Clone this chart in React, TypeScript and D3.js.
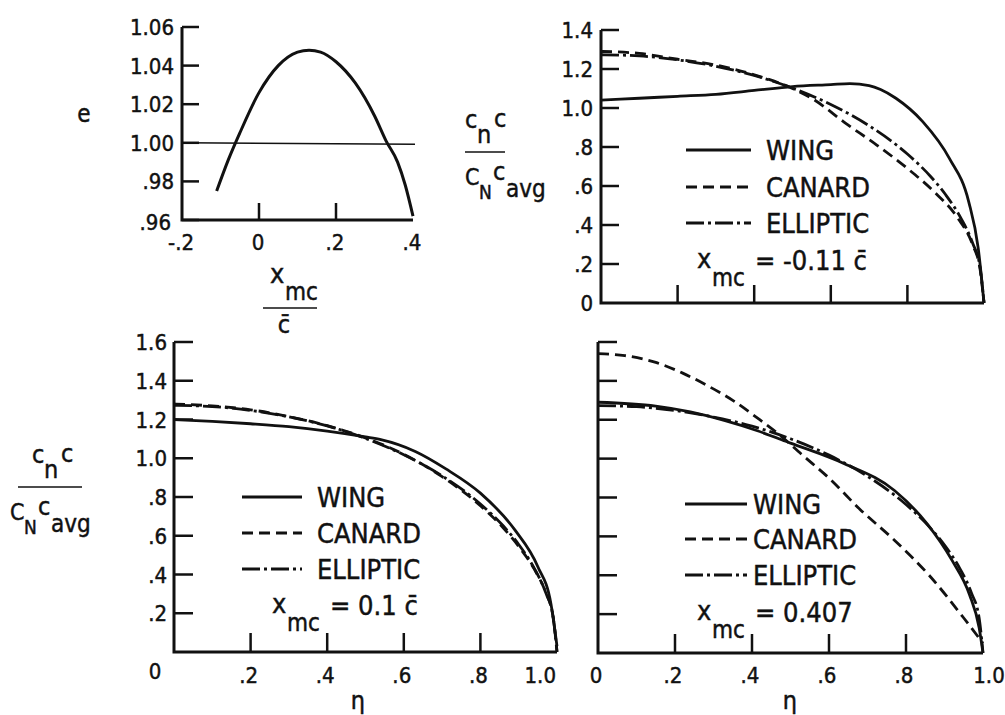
import React, { useRef, useEffect } from 'react';
import * as d3 from 'd3';

// span efficiency vs. moment-centre location (top-left panel)
const xmcValues = [-0.11, -0.08, -0.05, 0, 0.05, 0.1, 0.13, 0.16, 0.2, 0.25, 0.3, 0.33, 0.36, 0.38, 0.4];
const eValues = [0.975, 0.991, 1.005, 1.026, 1.040, 1.047, 1.048, 1.047, 1.042, 1.031, 1.014, 1.001, 0.99, 0.978, 0.962];
const eTicks = [0.96, 0.98, 1.0, 1.02, 1.04, 1.06];
const eTickLabels = ['.96', '.98', '1.00', '1.02', '1.04', '1.06'];
const xmcTicks = [-0.2, 0, 0.2, 0.4];
const xmcTickLabels = ['-.2', '0', '.2', '.4'];

// elliptic loading, same in every load panel
const ellipticEta = [0, 0.1, 0.2, 0.3, 0.4, 0.5, 0.6, 0.7, 0.8, 0.86, 0.9, 0.94, 0.97, 0.99, 1.0];
const ellipticLoad = [1.273, 1.267, 1.247, 1.214, 1.167, 1.102, 1.018, 0.909, 0.764, 0.65, 0.555, 0.434, 0.309, 0.18, 0];

// x_mc = -0.11 cbar
const wingEtaA = [0, 0.1, 0.2, 0.3, 0.4, 0.5, 0.6, 0.65, 0.7, 0.73, 0.77, 0.84, 0.91, 0.96, 0.985, 1.0];
const wingLoadA = [1.04, 1.05, 1.06, 1.07, 1.09, 1.11, 1.12, 1.125, 1.115, 1.095, 1.05, 0.93, 0.74, 0.52, 0.28, 0];
const canardEtaA = [0, 0.1, 0.2, 0.3, 0.4, 0.5, 0.55, 0.64, 0.72, 0.8, 0.87, 0.93, 0.97, 0.99, 1.0];
const canardLoadA = [1.29, 1.28, 1.25, 1.22, 1.17, 1.1, 1.05, 0.92, 0.81, 0.69, 0.57, 0.44, 0.3, 0.17, 0];

// x_mc = 0.1 cbar
const wingEtaB = [0, 0.1, 0.2, 0.3, 0.4, 0.5, 0.54, 0.63, 0.71, 0.8, 0.89, 0.95, 0.984, 1.0];
const wingLoadB = [1.2, 1.19, 1.178, 1.163, 1.14, 1.11, 1.096, 1.035, 0.945, 0.82, 0.63, 0.44, 0.25, 0.03];
const canardEtaB = [0, 0.1, 0.2, 0.3, 0.4, 0.5, 0.6, 0.7, 0.8, 0.86, 0.9, 0.94, 0.97, 0.99, 1.0];
const canardLoadB = [1.28, 1.27, 1.25, 1.215, 1.168, 1.105, 1.02, 0.905, 0.755, 0.64, 0.545, 0.43, 0.31, 0.18, 0];

// x_mc = 0.407 cbar
const wingEtaC = [0, 0.15, 0.24, 0.33, 0.41, 0.5, 0.64, 0.77, 0.855, 0.92, 0.965, 0.99, 1.0];
const wingLoadC = [1.29, 1.27, 1.24, 1.195, 1.146, 1.08, 0.974, 0.836, 0.664, 0.475, 0.3, 0.13, 0];
const canardEtaC = [0, 0.07, 0.15, 0.22, 0.28, 0.35, 0.41, 0.47, 0.53, 0.6, 0.68, 0.77, 0.86, 0.95, 1.0];
const canardLoadC = [1.54, 1.53, 1.495, 1.44, 1.38, 1.3, 1.215, 1.125, 1.02, 0.9, 0.74, 0.58, 0.4, 0.18, 0.05];

const etaTicks = [0.2, 0.4, 0.6, 0.8];
const etaTickLabels = ['0', '.2', '.4', '.6', '.8', '1.0'];
const loadTicksA = [0.2, 0.4, 0.6, 0.8, 1.0, 1.2, 1.4];
const loadTickLabelsA = ['0', '.2', '.4', '.6', '.8', '1.0', '1.2', '1.4'];
const loadTicksB = [0.2, 0.4, 0.6, 0.8, 1.0, 1.2, 1.4, 1.6];
const loadTickLabelsB = ['.2', '.4', '.6', '.8', '1.0', '1.2', '1.4', '1.6'];

const legendNames = ['WING', 'CANARD', 'ELLIPTIC'];
const FONT = "'DejaVu Sans Condensed', 'DejaVu Sans', sans-serif";
const INK = '#111';
const DASH: Record<string, string | null> = { WING: null, CANARD: '11,6', ELLIPTIC: '18,4,3,4' };

const App: React.FC = () => {
  const svgRef = useRef<SVGSVGElement | null>(null);

  useEffect(() => {
    if (!svgRef.current) return;
    const svg = d3.select(svgRef.current);
    svg.selectAll('*').remove();

    const txt = (x: number, y: number, s: string, size: number, anchor = 'start') =>
      svg.append('text')
        .attr('x', x).attr('y', y)
        .attr('font-family', FONT)
        .attr('font-size', size)
        .attr('text-anchor', anchor)
        .attr('fill', INK)
        .attr('stroke', INK)
        .attr('stroke-width', 0.45)
        .text(s);

    const frame = (x: any, y: any, xTicks: number[], yTicks: number[], tickLen: number) => {
      const [x0, x1] = x.range();
      const [y0] = y.range();
      const yTop = y(yTicks[yTicks.length - 1]);
      svg.append('path')
        .attr('d', `M${x0},${yTop}L${x0},${y0}L${x1},${y0}`)
        .attr('fill', 'none').attr('stroke', INK).attr('stroke-width', 3);
      yTicks.forEach(v => {
        svg.append('line')
          .attr('x1', x0).attr('x2', x0 + tickLen)
          .attr('y1', y(v)).attr('y2', y(v))
          .attr('stroke', INK).attr('stroke-width', 2.5);
      });
      xTicks.forEach(v => {
        svg.append('line')
          .attr('x1', x(v)).attr('x2', x(v))
          .attr('y1', y0).attr('y2', y0 - tickLen)
          .attr('stroke', INK).attr('stroke-width', 2.5);
      });
    };

    const curve = (x: any, y: any, xs: number[], ys: number[], dash: string | null, w = 2.8) => {
      const line = d3.line<number>()
        .x((_, i) => x(xs[i]))
        .y(d => y(d))
        .curve(d3.curveMonotoneX);
      svg.append('path')
        .attr('d', line(ys))
        .attr('fill', 'none')
        .attr('stroke', INK)
        .attr('stroke-width', w)
        .attr('stroke-dasharray', dash)
        .attr('stroke-linecap', 'butt');
    };

    const legend = (lx1: number, lx2: number, tx: number, rows: number[], xmc: [number, number, string]) => {
      legendNames.forEach((name, i) => {
        svg.append('line')
          .attr('x1', lx1).attr('x2', lx2)
          .attr('y1', rows[i]).attr('y2', rows[i])
          .attr('stroke', INK).attr('stroke-width', 2.8)
          .attr('stroke-dasharray', DASH[name]);
        txt(tx, rows[i] + 10, name, 27);
      });
      const [xx, by, value] = xmc;
      txt(xx, by, 'x', 27);
      txt(xx + 15, by + 18, 'mc', 24);
      txt(xx + 58, by + 2, value, 27);
    };

    const ratioLabel = (cx: number, barY: number, barX1: number, barX2: number, denX: number) => {
      txt(cx, barY - 24, 'c', 25);
      txt(cx + 12, barY - 9, 'n', 25);
      txt(cx + 29, barY - 25, 'c', 25);
      svg.append('line')
        .attr('x1', barX1).attr('x2', barX2)
        .attr('y1', barY).attr('y2', barY)
        .attr('stroke', INK).attr('stroke-width', 1.5);
      txt(denX, barY + 33, 'C', 23);
      txt(denX + 14, barY + 47, 'N', 19);
      txt(denX + 28, barY + 28, 'c', 25);
      txt(denX + 41, barY + 45, 'avg', 24);
    };

    // ---- top-left: e vs x_mc
    const xE = d3.scaleLinear().domain([-0.2, 0.4]).range([182, 413]);
    const yE = d3.scaleLinear().domain([0.96, 1.06]).range([220, 27]);
    frame(xE, yE, [0, 0.2], eTicks, 17);
    svg.append('line')
      .attr('x1', xE(-0.2)).attr('x2', xE(0.4) + 2)
      .attr('y1', yE(1.0)).attr('y2', yE(1.0) + 1.5)
      .attr('stroke', INK).attr('stroke-width', 1.6);
    curve(xE, yE, xmcValues, eValues, null, 3);
    eTicks.forEach((v, i) => {
      if (i === 0) txt(171, yE(v) + 10, eTickLabels[i], 22, 'end');
      else txt(174, yE(v) + 8, eTickLabels[i], 22, 'end');
    });
    xmcTicks.forEach((v, i) => txt(xE(v) - 1, 250, xmcTickLabels[i], 22, 'middle'));
    txt(84, 122, 'e', 24, 'middle');
    txt(270, 283, 'x', 27);
    txt(285, 300, 'mc', 24);
    svg.append('line').attr('x1', 263).attr('x2', 317).attr('y1', 308).attr('y2', 308)
      .attr('stroke', INK).attr('stroke-width', 1.5);
    txt(284, 333, 'c\u0304', 25, 'middle');

    // ---- top-right: x_mc = -0.11
    const xA = d3.scaleLinear().domain([0, 1]).range([601, 984]);
    const yA = d3.scaleLinear().domain([0, 1.4]).range([303, 30]);
    frame(xA, yA, etaTicks, loadTicksA, 18);
    curve(xA, yA, ellipticEta, ellipticLoad, DASH.ELLIPTIC);
    curve(xA, yA, canardEtaA, canardLoadA, DASH.CANARD);
    curve(xA, yA, wingEtaA, wingLoadA, null);
    [0, ...loadTicksA].forEach((v, i) => txt(593, yA(v) + 8, loadTickLabelsA[i], 22, 'end'));
    ratioLabel(465, 152, 465, 505, 465);
    legend(686, 751, 766, [150, 187, 223], [697, 268, '= -0.11 c\u0304']);

    // ---- bottom-left: x_mc = 0.1
    const xB = d3.scaleLinear().domain([0, 1]).range([174, 557]);
    const yB = d3.scaleLinear().domain([0, 1.6]).range([652, 342]);
    frame(xB, yB, etaTicks, loadTicksB, 19);
    curve(xB, yB, ellipticEta, ellipticLoad, DASH.ELLIPTIC);
    curve(xB, yB, canardEtaB, canardLoadB, DASH.CANARD);
    curve(xB, yB, wingEtaB, wingLoadB, null);
    loadTicksB.forEach((v, i) => txt(167, yB(v) + 8, loadTickLabelsB[i], 22, 'end'));
    [0, ...etaTicks, 1].forEach((v, i) => {
      if (i === 0) txt(155, 679, etaTickLabels[i], 22, 'middle');
      else if (v === 1) txt(556, 683, etaTickLabels[i], 22, 'end');
      else txt(xB(v) - 2, 683, etaTickLabels[i], 22, 'middle');
    });
    txt(358, 709, 'η', 25, 'middle');
    ratioLabel(32, 487, 18, 82, 10);
    legend(242, 302, 317, [497, 533, 569], [272, 613, '= 0.1 c\u0304']);

    // ---- bottom-right: x_mc = 0.407
    const xC = d3.scaleLinear().domain([0, 1]).range([598, 983]);
    const yC = d3.scaleLinear().domain([0, 1.6]).range([653, 342]);
    frame(xC, yC, etaTicks, loadTicksB, 19);
    curve(xC, yC, ellipticEta, ellipticLoad, DASH.ELLIPTIC);
    curve(xC, yC, canardEtaC, canardLoadC, DASH.CANARD);
    curve(xC, yC, wingEtaC, wingLoadC, null);
    [0, ...etaTicks, 1].forEach((v, i) => {
      if (i === 0) txt(596, 683, etaTickLabels[i], 22, 'middle');
      else if (v === 1) txt(xC(v) + 6, 683, etaTickLabels[i], 22, 'middle');
      else txt(xC(v) - 2, 683, etaTickLabels[i], 22, 'middle');
    });
    txt(790, 709, 'η', 25, 'middle');
    legend(685, 747, 753, [504, 539, 575], [697, 620, '= 0.407']);
  }, []);

  return (
    <div style={{ position: 'absolute', left: 0, top: 0, width: 1005, height: 715, background: '#fff' }}>
      <svg ref={svgRef} width={1005} height={715}></svg>
    </div>
  );
};

export default App;
